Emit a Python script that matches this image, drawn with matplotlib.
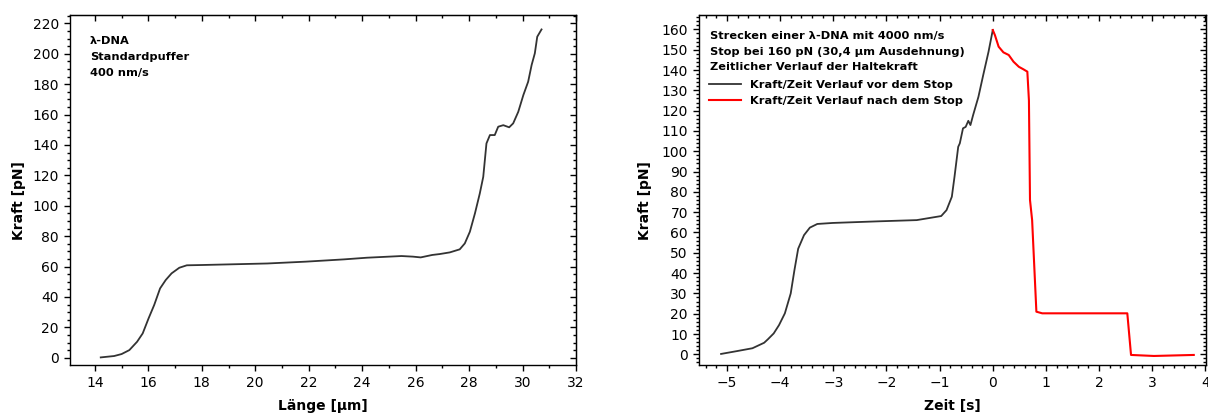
import matplotlib
matplotlib.use("Agg")
import matplotlib.pyplot as plt
from matplotlib.ticker import MultipleLocator

plt.rcParams['font.family'] = ['DejaVu Sans']

# Left panel: force vs length
laenge = [14.22, 14.72, 15.0, 15.29, 15.58, 15.79, 16.01, 16.22, 16.44, 16.65,
          16.87, 17.16, 17.44, 18.02, 19.0, 20.45, 21.89, 23.32, 24.18, 25.47,
          25.9, 26.19, 26.62, 26.9, 27.28, 27.65, 27.84, 28.03, 28.22, 28.4,
          28.53, 28.59, 28.65, 28.78, 28.96, 29.09, 29.28, 29.5, 29.65, 29.84,
          30.03, 30.21, 30.34, 30.46, 30.55, 30.71]
kraft_l = [0.2, 1.1, 2.4, 5.0, 10.5, 16.0, 25.9, 34.7, 45.6, 51.1,
           55.5, 59.2, 60.8, 61.0, 61.4, 62.0, 63.2, 64.7, 65.8, 66.9,
           66.5, 66.0, 67.6, 68.2, 69.3, 71.3, 75.2, 82.9, 95.0, 108.0,
           119.0, 130.0, 141.0, 146.5, 146.5, 152.0, 153.0, 151.6, 154.2, 161.8,
           172.8, 181.6, 192.6, 200.3, 211.2, 216.0]

# Right panel: force vs time, before the stop
zeit_vor = [-5.11, -4.81, -4.52, -4.30, -4.23, -4.12, -4.02, -3.91, -3.80, -3.73,
            -3.66, -3.55, -3.44, -3.30, -3.01, -2.15, -1.43, -0.97, -0.87, -0.77,
            -0.72, -0.65, -0.62, -0.56, -0.51, -0.46, -0.42, -0.37, -0.27, -0.18,
            -0.08, 0.0]
kraft_vor = [0.2, 1.6, 3.0, 5.7, 7.4, 10.3, 14.4, 20.2, 30.0, 41.5,
             52.0, 58.7, 62.4, 64.2, 64.7, 65.5, 66.1, 68.1, 71.0, 77.6,
             87.4, 102.2, 103.9, 111.3, 112.0, 115.0, 112.9, 117.8, 126.8, 137.5,
             149.0, 159.7]

# after the stop
zeit_nach = [0.0, 0.04, 0.11, 0.20, 0.30, 0.39, 0.49, 0.58, 0.65, 0.68,
             0.70, 0.74, 0.82, 0.93, 1.45, 1.88, 2.53, 2.60, 3.03, 3.78]
kraft_nach = [159.7, 157.2, 151.5, 148.7, 147.4, 144.1, 141.6, 140.3, 139.2, 125.0,
              76.0, 66.1, 21.0, 20.2, 20.2, 20.2, 20.2, -0.3, -0.8, -0.3]

fig = plt.figure(figsize=(12.08, 4.16), dpi=100)
ax1 = fig.add_axes([70/1208, 51/416, 506/1208, 350/416])
ax2 = fig.add_axes([699/1208, 51/416, 507/1208, 350/416])


def style(ax, xmaj, xmin, ymaj, ymin):
    ax.xaxis.set_major_locator(MultipleLocator(xmaj))
    ax.xaxis.set_minor_locator(MultipleLocator(xmin))
    ax.yaxis.set_major_locator(MultipleLocator(ymaj))
    ax.yaxis.set_minor_locator(MultipleLocator(ymin))
    ax.tick_params(which='both', labelsize=10, width=1, color='black', direction='out')
    ax.tick_params(which='major', length=4.5)
    ax.tick_params(which='minor', length=2.5)
    for s in ax.spines.values():
        s.set_linewidth(1)
    # top and right: ticks pointing inward, no labels
    top = ax.secondary_xaxis('top')
    right = ax.secondary_yaxis('right')
    top.xaxis.set_major_locator(MultipleLocator(xmaj))
    top.xaxis.set_minor_locator(MultipleLocator(xmin))
    right.yaxis.set_major_locator(MultipleLocator(ymaj))
    right.yaxis.set_minor_locator(MultipleLocator(ymin))
    for sec in (top, right):
        sec.tick_params(which='both', direction='in', width=1, labeltop=False,
                        labelright=False)
        sec.tick_params(which='major', length=4.5)
        sec.tick_params(which='minor', length=2.5)


# left
ax1.plot(laenge, kraft_l, color='#333333', lw=1.3)
ax1.set_xlim(13.07, 32)
ax1.set_ylim(-4.8, 225.5)
style(ax1, 2, 1, 20, 5)
ax1.set_xlabel("Länge [µm]", fontsize=10, fontweight='bold')
ax1.set_ylabel("Kraft [pN]", fontsize=10, fontweight='bold')
ax1.xaxis.set_label_coords(0.5, -0.097)
ax1.yaxis.set_label_coords(-0.087, 0.471)
for i, t in enumerate(["λ-DNA", "Standardpuffer", "400 nm/s"]):
    ax1.text(20/506, 1 - (26 + 16*i)/350, t, transform=ax1.transAxes,
             fontsize=8.2, fontweight='bold', va='center', ha='left')

# right
ax2.plot(zeit_vor, kraft_vor, color='#333333', lw=1.3,
         label="Kraft/Zeit Verlauf vor dem Stop")
ax2.plot(zeit_nach, kraft_nach, color='#ff0000', lw=1.5,
         label="Kraft/Zeit Verlauf nach dem Stop")
ax2.set_xlim(-5.525, 4.01)
ax2.set_ylim(-5.25, 167.1)
style(ax2, 1, 0.2, 10, 2)
ax2.set_xlabel("Zeit [s]", fontsize=10, fontweight='bold')
ax2.set_ylabel("Kraft [pN]", fontsize=10, fontweight='bold')
ax2.xaxis.set_label_coords(0.5, -0.097)
ax2.yaxis.set_label_coords(-0.093, 0.471)
lines = ["Strecken einer λ-DNA mit 4000 nm/s",
         "Stop bei 160 pN (30,4 µm Ausdehnung)",
         "Zeitlicher Verlauf der Haltekraft"]
for i, t in enumerate(lines):
    ax2.text(11/507, 1 - (21 + 15.7*i)/350, t, transform=ax2.transAxes,
             fontsize=8.2, fontweight='bold', va='center', ha='left')
leg = ax2.legend(loc='upper left', bbox_to_anchor=(0.0, 1 - 55/350), frameon=False,
                 prop={'size': 8.2, 'weight': 'bold'}, handlelength=2.8,
                 handletextpad=0.8, labelspacing=0.5, borderaxespad=0.5)

fig.savefig("out.png", dpi=100)
